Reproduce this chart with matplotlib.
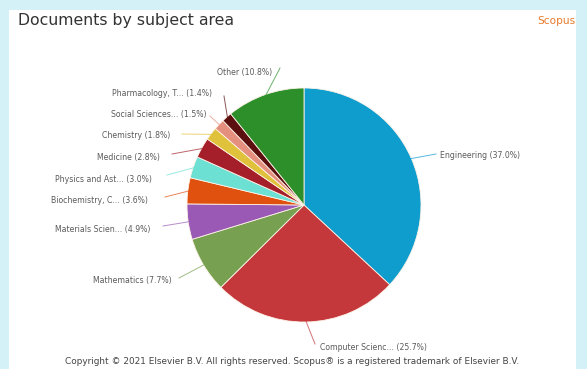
import numpy as np
import matplotlib.pyplot as plt
from matplotlib.patches import Rectangle

# data
subjects = ['Engineering', 'Computer Scienc...', 'Mathematics', 'Materials Scien...',
            'Biochemistry, C...', 'Physics and Ast...', 'Medicine', 'Chemistry',
            'Social Sciences...', 'Pharmacology, T...', 'Other']
shares = [37.0, 25.7, 7.7, 4.9, 3.6, 3.0, 2.8, 1.8, 1.5, 1.4, 10.8]
colors = ['#0e9dcd', '#c4373b', '#77a050', '#9b59b6', '#e0500e', '#6ce0d3',
          '#a51f2a', '#e0c13b', '#e5907e', '#5c0f0f', '#2c8f2a']

# label layout in pixel coords: (text x, text y, align, line end x, line end y)
label_pos = [(440, 155, 'left', 436, 154),
             (320, 347, 'left', 315, 344),
             (172, 281, 'right', 179, 278),
             (150, 229, 'right', 163, 226),
             (148, 200, 'right', 165, 197),
             (152, 179, 'right', 167, 175),
             (160, 157, 'right', 172, 154),
             (170, 135, 'right', 182, 134),
             (206, 114, 'right', 210, 116),
             (212, 93, 'right', 224, 96),
             (272, 72, 'right', 280, 68)]

W, H = 587, 369
cx, cy, R = 304, 205, 117

def px(x, y):
    return (x - cx) / R, (cy - y) / R

fig = plt.figure(figsize=(W / 100, H / 100), dpi=100)
fig.patch.set_facecolor('#d3f1f7')
fig.patches.append(Rectangle((9 / W, 0), 567 / W, 359 / H, transform=fig.transFigure,
                             facecolor='white', edgecolor='none', zorder=-5))

ax = fig.add_axes([0, 0, 1, 1])
ax.patch.set_visible(False)

wedges, _ = ax.pie(shares, colors=colors, startangle=90, counterclock=False,
                   radius=1.0, center=(0, 0), frame=True,
                   wedgeprops=dict(edgecolor='#fdf3e8', linewidth=0.6))

for w, name, val, (tx, ty, ha, lx, ly) in zip(wedges, subjects, shares, label_pos):
    ang = np.deg2rad((w.theta1 + w.theta2) / 2)
    x0, y0 = np.cos(ang) * 0.99, np.sin(ang) * 0.99
    x1, y1 = px(lx, ly)
    ax.plot([x0, x1], [y0, y1], color=w.get_facecolor(), lw=0.7, alpha=0.7)
    xt, yt = px(tx, ty)
    ax.text(xt, yt, f'{name} ({val:.1f}%)', ha=ha, va='center',
            fontsize=5.6, color='#5a5a5a')

ax.set_xlim(-cx / R, (W - cx) / R)
ax.set_ylim((cy - H) / R, cy / R)
ax.set_aspect('equal')
ax.axis('off')

fig.text(18 / W, 1 - 20 / H, 'Documents by subject area', fontsize=11.3,
         color='#333333', va='center', ha='left')
fig.text(575 / W, 1 - 21 / H, 'Scopus', fontsize=7.6, color='#e8792a',
         va='center', ha='right')
fig.text(292 / W, 1 - 361 / H,
         'Copyright \u00a9 2021 Elsevier B.V. All rights reserved. Scopus\u00ae is a registered trademark of Elsevier B.V.',
         fontsize=6.4, color='#444444', ha='center', va='center')

fig.savefig('out.png', dpi=100)
